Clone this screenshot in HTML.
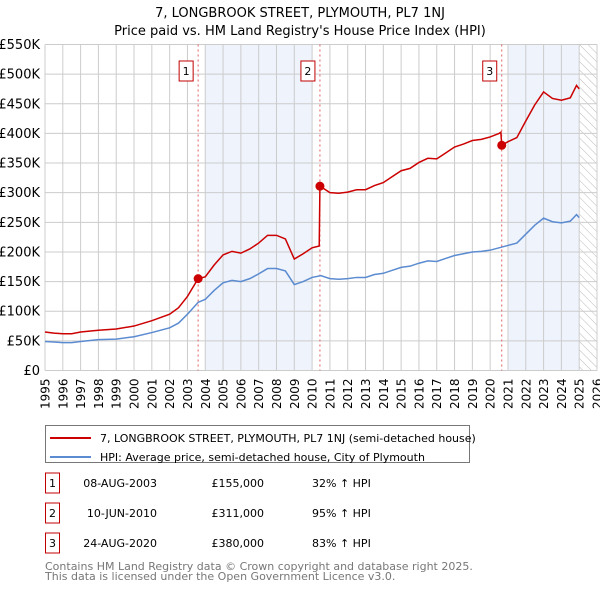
<!DOCTYPE html>
<html><head><meta charset="utf-8"><style>
body{margin:0;background:#fff;width:600px;height:590px;overflow:hidden;font-family:"DejaVu Sans","Liberation Sans",sans-serif;}
</style></head><body>
<svg width="600" height="590" xmlns="http://www.w3.org/2000/svg" font-family="DejaVu Sans, Liberation Sans, sans-serif">
<defs><pattern id="hatch" width="6" height="6" patternUnits="userSpaceOnUse" patternTransform="rotate(-45)"><line x1="0" y1="0" x2="0" y2="6" stroke="#bbb" stroke-width="1"/></pattern></defs>
<text x="300" y="17" text-anchor="middle" font-size="13">7, LONGBROOK STREET, PLYMOUTH, PL7 1NJ</text>
<text x="300" y="35" text-anchor="middle" font-size="13">Price paid vs. HM Land Registry's House Price Index (HPI)</text>
<g id="plot"></g>
<g id="legend">
<rect x="45.5" y="425.5" width="424" height="37" fill="#fff" stroke="#777"/>
<line x1="50" y1="438" x2="91" y2="438" stroke="#cc0000" stroke-width="2"/>
<text x="100" y="442" font-size="11">7, LONGBROOK STREET, PLYMOUTH, PL7 1NJ (semi-detached house)</text>
<line x1="50" y1="457" x2="91" y2="457" stroke="#5b8bd0" stroke-width="2"/>
<text x="100" y="461" font-size="11">HPI: Average price, semi-detached house, City of Plymouth</text>
</g>
<g id="table" font-size="11"></g>
<text x="45" y="570" font-size="11" fill="#777">Contains HM Land Registry data © Crown copyright and database right 2025.</text>
<text x="45" y="580" font-size="11" fill="#777">This data is licensed under the Open Government Licence v3.0.</text>
</svg>
<script>
const hpiDates=[1995,1995.5,1996,1996.5,1997,1998,1999,2000,2001,2002,2002.5,2003,2003.6,2004,2004.5,2005,2005.5,2006,2006.5,2007,2007.5,2008,2008.5,2009,2009.5,2010,2010.5,2011,2011.5,2012,2012.5,2013,2013.5,2014,2014.5,2015,2015.5,2016,2016.5,2017,2017.5,2018,2018.5,2019,2019.5,2020,2020.5,2021,2021.5,2022,2022.5,2023,2023.5,2024,2024.5,2024.85,2025];
const hpiVals=[49,48,47,47,49,52,53,57,64,72,80,95,115,120,135,148,152,150,155,163,172,172,168,145,150,157,160,155,154,155,157,157,162,164,169,174,176,181,185,184,189,194,197,200,201,203,207,211,215,230,245,257,251,249,252,263,258];
const redDates=[1995,1995.5,1996,1996.5,1997,1998,1999,2000,2001,2002,2002.5,2003,2003.6,2004,2004.5,2005,2005.5,2006,2006.5,2007,2007.5,2008,2008.5,2009,2009.5,2010,2010.4,2010.44,2011,2011.5,2012,2012.5,2013,2013.5,2014,2014.5,2015,2015.5,2016,2016.5,2017,2017.5,2018,2018.5,2019,2019.5,2020,2020.5,2020.6,2020.65,2021,2021.5,2022,2022.5,2023,2023.5,2024,2024.5,2024.85,2025];
const redVals=[65,63,62,62,65,68,70,75,84,95,106,125,155,158,178,195,201,198,205,215,228,228,222,188,197,207,210,311,300,299,301,305,305,312,317,327,337,341,351,358,357,367,377,382,388,390,394,400,402,380,386,393,421,448,470,459,456,460,481,475];
const saleDates=[2003.6,2010.44,2020.65];
const salePrices=[155,311,380];
const saleLabels=["1","2","3"];
const saleDateText=["08-AUG-2003","10-JUN-2010","24-AUG-2020"];
const salePriceText=["£155,000","£311,000","£380,000"];
const saleHpiText=["32% ↑ HPI","95% ↑ HPI","83% ↑ HPI"];
const yTicks=[0,50,100,150,200,250,300,350,400,450,500,550];
const yTickLabels=["£0","£50K","£100K","£150K","£200K","£250K","£300K","£350K","£400K","£450K","£500K","£550K"];
const xYears=[];for(let y=1995;y<=2026;y++)xYears.push(y);

const X0=45,X1=597,Y0=370.5,Y1=44.5;
const x=v=>X0+(v-1995)/(2026-1995)*(X1-X0);
const y=v=>Y0-v/550*(Y0-Y1);
const NS="http://www.w3.org/2000/svg";
const plot=document.getElementById('plot');
function mk(tag,attrs,parent){const e=document.createElementNS(NS,tag);for(const k in attrs)e.setAttribute(k,attrs[k]);(parent||plot).appendChild(e);return e;}

// shading
let r=mk('rect',{x:x(2004),y:Y1,width:x(2010)-x(2004),height:Y0-Y1,fill:'#eef3fc'});


r=mk('rect',{x:x(2021),y:Y1,width:x(2025)-x(2021),height:Y0-Y1,fill:'#eef3fc'});


r=mk('rect',{x:x(2025),y:Y1,width:X1-x(2025),height:Y0-Y1,fill:'url(#hatch)'});


// grid
xYears.forEach(v=>{const l=mk('line',{x1:x(v),x2:x(v),y1:Y1,y2:Y0,stroke:'#ccc'});


const t=mk('text',{x:0,y:0,'font-size':12,'text-anchor':'end',transform:`translate(${x(v)+4.5},${Y0+8}) rotate(-90)`});
t.textContent=v;

});
yTicks.forEach((v,i)=>{const l=mk('line',{x1:X0,x2:X1,y1:y(v),y2:y(v),stroke:'#ccc'});


const t=mk('text',{x:40,y:y(v)+4.5,'font-size':13,'text-anchor':'end'});
t.textContent=yTickLabels[i];

});
// sale vlines & boxes
saleDates.forEach((d,i)=>{const l=mk('line',{x1:x(d),x2:x(d),y1:Y1,y2:Y0,stroke:'#e06060','stroke-dasharray':'2,3'});


const b=mk('rect',{x:x(d)-19,y:61,width:14,height:20,fill:'#fff',stroke:'#c00000'});


const t=mk('text',{x:x(d)-12,y:75,'font-size':11,'text-anchor':'middle'});
t.textContent=saleLabels[i];

});
// lines
const hp=mk('polyline',{points:hpiDates.map((d,i)=>x(d)+','+y(hpiVals[i])).join(' '),fill:'none',stroke:'#5b8bd0','stroke-width':1.5});


const rp=mk('polyline',{points:redDates.map((d,i)=>x(d)+','+y(redVals[i])).join(' '),fill:'none',stroke:'#cc0000','stroke-width':1.5});


saleDates.forEach((d,i)=>{const c=mk('circle',{cx:x(d),cy:y(salePrices[i]),r:4.5,fill:'#cc0000'});

});
// table
const tb=document.getElementById('table');
const rowsY=[483,513,543];
saleLabels.forEach((s,i)=>{const ry=rowsY[i];
const b=mk('rect',{x:45.5,y:ry-10,width:14,height:20,fill:'#fff',stroke:'#c00000'},tb);


const cols=[[52.5,s,'middle'],[157,saleDateText[i],'end'],[264,salePriceText[i],'end'],[312,saleHpiText[i],'start']];
cols.forEach(c=>{const t=mk('text',{x:c[0],y:ry+4,'text-anchor':c[2]},tb);t.textContent=c[1];

});});
</script>
</body></html>
